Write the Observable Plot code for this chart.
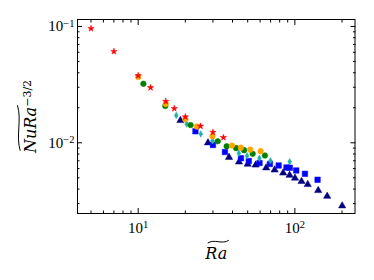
<!DOCTYPE html>
<html><head><meta charset="utf-8">
<script src="https://cdn.jsdelivr.net/npm/d3@7"></script>
<script src="https://cdn.jsdelivr.net/npm/@observablehq/plot@0.6"></script>
<style>html,body{margin:0;padding:0;background:#fff;} svg{display:block}</style>
</head><body><div id="chart"></div>
<script>
// Data
const starX = [5, 7, 10, 12, 15, 17, 20, 25, 30, 35];
const starY = [0.0961, 0.0610, 0.0378, 0.0298, 0.0227, 0.0197, 0.0167, 0.0139, 0.0123, 0.0111];

const orangeX = [10, 15, 20, 23.7, 29.8, 39.7, 45.2, 51.9, 60.5];
const orangeY = [0.0368, 0.0216, 0.0159, 0.0138, 0.0114, 0.00948, 0.00908, 0.00873, 0.00847];

const greenX = [10.8, 14.9, 21.6, 32.2, 36.7, 42.2, 47.4, 53.8, 64.4];
const greenY = [0.0322, 0.0207, 0.0142, 0.0103, 0.00935, 0.00899, 0.00864, 0.00804, 0.00778];

const cyanX = [17.5, 20.4, 25.1, 29.8, 43.9, 49.5, 59.4, 69.8, 92.7];
const cyanY = [0.0172, 0.0145, 0.0119, 0.0104, 0.00814, 0.00773, 0.00736, 0.00700, 0.00687];

const blueX = [23.2, 30.0, 35.8, 45.3, 50.8, 59.5, 69.3, 78.8, 88.4, 92.8, 102, 116, 139.6];
const blueY = [0.01256, 0.00957, 0.00833, 0.00736, 0.00697, 0.00670, 0.00657, 0.00638, 0.00613, 0.00610, 0.00578, 0.00541, 0.00481];

const navyX = [18.6, 27.9, 38.0, 44.0, 50.0, 56.2, 65.6, 74.3, 84.2, 92.6, 100.2, 110.3, 120.8, 140.9, 160.8, 200.4];
const navyY = [0.01556, 0.0100, 0.00750, 0.00684, 0.00655, 0.00644, 0.00609, 0.00584, 0.00550, 0.00526, 0.00497, 0.00465, 0.00438, 0.00389, 0.00347, 0.00287];

const xMajor = [10, 100];
const xMinor = [5, 6, 7, 8, 9, 20, 30, 40, 50, 60, 70, 80, 90, 200];
const yMajor = [0.01, 0.1];
const yMinor = [0.003, 0.004, 0.005, 0.006, 0.007, 0.008, 0.009, 0.02, 0.03, 0.04, 0.05, 0.06, 0.07, 0.08, 0.09];
const xTickLabels = ["10^{1}", "10^{2}"];
const yTickLabels = ["10^{-2}", "10^{-1}"];
const xLabel = ["Ra"];
const yLabel = ["NuRa^{\u22123/2}"];

function pts(xs, ys) { return xs.map((x, i) => ({x, y: ys[i]})); }

const serif = "'Liberation Serif', 'DejaVu Serif', serif";
const labelFont = "'DejaVu Serif', serif";

const chart = Plot.plot({
  width: 374,
  height: 280,
  marginLeft: 77,
  marginRight: 19.5,
  marginTop: 19,
  marginBottom: 67,
  x: {type: "log", domain: [4.1, 242]},
  y: {type: "log", domain: [0.002466, 0.1148]},
  style: {background: "white", color: "black", fontFamily: serif},
  marks: [
    // inward ticks on all four sides
    Plot.axisX({anchor: "bottom", ticks: xMajor, tickSize: -5, fill: "none", label: null}),
    Plot.axisX({anchor: "bottom", ticks: xMinor, tickSize: -2.5, fill: "none", label: null}),
    Plot.axisX({anchor: "top", ticks: xMajor, tickSize: -5, fill: "none", label: null}),
    Plot.axisX({anchor: "top", ticks: xMinor, tickSize: -2.5, fill: "none", label: null}),
    Plot.axisY({anchor: "left", ticks: yMajor, tickSize: -5, fill: "none", label: null}),
    Plot.axisY({anchor: "left", ticks: yMinor, tickSize: -2.5, fill: "none", label: null}),
    Plot.axisY({anchor: "right", ticks: yMajor, tickSize: -5, fill: "none", label: null}),
    Plot.axisY({anchor: "right", ticks: yMinor, tickSize: -2.5, fill: "none", label: null}),
    // tick labels
    Plot.axisX({anchor: "bottom", ticks: xMajor, tickSize: 0, tickPadding: 9,
      tickFormat: d => xTickLabels[xMajor.indexOf(d)], label: null}),
    Plot.axisY({anchor: "left", ticks: yMajor, tickSize: 0, tickPadding: 3,
      tickFormat: d => yTickLabels[yMajor.indexOf(d)], label: null}),
    // axis titles
    Plot.text(xLabel, {text: d => d, frameAnchor: "bottom", textAnchor: "middle", dy: 45, fontSize: 16,
      fontStyle: "italic", fontFamily: labelFont}),
    Plot.text(yLabel, {text: d => d, frameAnchor: "left", textAnchor: "middle", rotate: -90, dx: -47, fontSize: 16,
      fontStyle: "italic", fontFamily: labelFont}),
    // data
    Plot.dot(pts(navyX, navyY), {x: "x", y: "y", symbol: "triangle", r: 2.7, fill: "#000080", stroke: "#000080", strokeWidth: 0.5}),
    Plot.dot(pts(blueX, blueY), {x: "x", y: "y", symbol: "square", r: 3.1, fill: "#0000ff", stroke: "#0000ff", strokeWidth: 0.5}),
    Plot.dot(pts(cyanX, cyanY), {x: "x", y: "y", symbol: "diamond", r: 2.0, fill: "#20b2aa", stroke: "#20b2aa", strokeWidth: 0.5}),
    Plot.dot(pts(greenX, greenY), {x: "x", y: "y", symbol: "circle", r: 2.8, fill: "#008000", stroke: "#008000", strokeWidth: 0.5}),
    Plot.dot(pts(orangeX, orangeY), {x: "x", y: "y", symbol: "circle", r: 2.8, fill: "#ffa500", stroke: "#ffa500", strokeWidth: 0.5}),
    Plot.dot(pts(starX, starY), {x: "x", y: "y", symbol: "star", r: 2.0, fill: "#ff0000", stroke: "#ff0000", strokeWidth: 0.5}),
    Plot.frame({stroke: "black", strokeWidth: 1})
  ]
});

document.getElementById("chart").appendChild(chart);

// Turn "base^{sup}" strings into real superscripts
const svgNS = "http://www.w3.org/2000/svg";
d3.select(chart).selectAll("text").each(function() {
  const t = this.textContent;
  const m = t.match(/^(.*)\^\{(.*)\}$/);
  if (!m) return;
  const base = m[1], sup = m[2].replace("-", "\u2212");
  if (base === "10") {
    this.setAttribute("font-size", "15");
    this.style.setProperty("font-size", "15px", "important");
    if (this.parentNode) this.parentNode.setAttribute("font-size", "15");
  }
  while (this.firstChild) this.removeChild(this.firstChild);
  const a = document.createElementNS(svgNS, "tspan");
  a.textContent = base;
  const b = document.createElementNS(svgNS, "tspan");
  b.textContent = sup;
  b.setAttribute("dy", "-0.45em");
  b.setAttribute("font-size", base === "10" ? "10.5" : "11");
  b.style.fontStyle = "normal";
  this.appendChild(a);
  this.appendChild(b);
});

// Wide tilde over the axis titles
function addTilde(textEl, nChars) {
  const p0 = textEl.getStartPositionOfChar(0);
  const p1 = textEl.getEndPositionOfChar(nChars - 1);
  const fs = 16;
  const x0 = p0.x + 0.15 * fs, x1 = p1.x + 0.1 * fs;
  const w = x1 - x0;
  const yb = p0.y - 1.05 * fs;
  const a = 0.09 * fs;
  const path = document.createElementNS(svgNS, "path");
  path.setAttribute("d", `M${x0},${yb + a}C${x0 + w * 0.3},${yb - 2.2 * a} ${x0 + w * 0.7},${yb + 2.2 * a} ${x1},${yb - a}`);
  path.setAttribute("fill", "none");
  path.setAttribute("stroke", "black");
  path.setAttribute("stroke-width", "1");
  const tr = textEl.getAttribute("transform");
  if (tr) path.setAttribute("transform", tr);
  textEl.parentNode.appendChild(path);
}
d3.select(chart).selectAll("text").each(function() {
  const t = this.textContent;
  if (t === "Ra") addTilde(this, 2);
  else if (t.startsWith("NuRa")) addTilde(this, 4);
});
</script>
</body></html>
